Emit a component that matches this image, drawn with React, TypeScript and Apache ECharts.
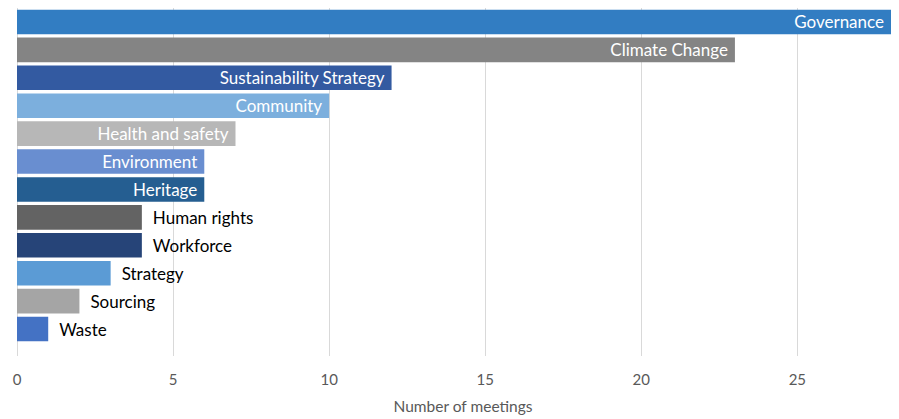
import React, { useEffect, useRef } from "react";
import * as echarts from "echarts";

const categories = [
  "Governance",
  "Climate Change",
  "Sustainability Strategy",
  "Community",
  "Health and safety",
  "Environment",
  "Heritage",
  "Human rights",
  "Workforce",
  "Strategy",
  "Sourcing",
  "Waste",
];
const meetings = [28, 23, 12, 10, 7, 6, 6, 4, 4, 3, 2, 1];
const barColors = [
  "#327DC2",
  "#848484",
  "#335AA1",
  "#7CAFDD",
  "#B7B7B7",
  "#698ED0",
  "#255E91",
  "#636363",
  "#264478",
  "#5B9BD5",
  "#A5A5A5",
  "#4472C4",
];
const labelInside = [true, true, true, true, true, true, true, false, false, false, false, false];
const tickValues = [0, 5, 10, 15, 20, 25];

const FONT = "Lato, 'Noto Sans', sans-serif";

export default function App() {
  const ref = useRef<HTMLDivElement>(null);
  useEffect(() => {
    document.body.style.margin = "0";
    const chart = echarts.init(ref.current!, null, { renderer: "svg" });
    chart.setOption({
      animation: false,
      grid: { left: 17, right: 8, top: 8, bottom: 70, containLabel: false },
      xAxis: {
        type: "value",
        min: 0,
        max: 28,
        interval: 5,
        name: "Number of meetings",
        nameLocation: "middle",
        nameGap: 55,
        nameTextStyle: { color: "#595959", fontFamily: FONT, fontSize: 15.5, padding: [0, 0, 0, 18] },
        axisLine: { show: false },
        axisTick: {
          show: true,
          length: 13,
          customValues: tickValues,
          lineStyle: { color: "#D9D9D9", width: 1 },
        },
        axisLabel: {
          customValues: tickValues,
          color: "#595959",
          fontFamily: FONT,
          fontSize: 15,
          margin: 28,
        },
        splitLine: {
          show: true,
          lineStyle: { color: "#D9D9D9", width: 1 },
        },
      },
      yAxis: {
        type: "category",
        inverse: true,
        data: categories,
        show: false,
      },
      series: [
        {
          type: "bar",
          barCategoryGap: "12%",
          data: meetings.map((v, i) => ({
            value: v,
            itemStyle: { color: barColors[i] },
            label: labelInside[i]
              ? { position: "insideRight", color: "#FFFFFF", distance: 7 }
              : { position: "right", color: "#000000", distance: 11 },
          })),
          label: {
            show: true,
            formatter: "{b}",
            fontFamily: FONT,
            fontSize: 17,
          },
        },
      ],
    });
    return () => chart.dispose();
  }, []);
  return <div ref={ref} style={{ width: 899, height: 419 }} />;
}
